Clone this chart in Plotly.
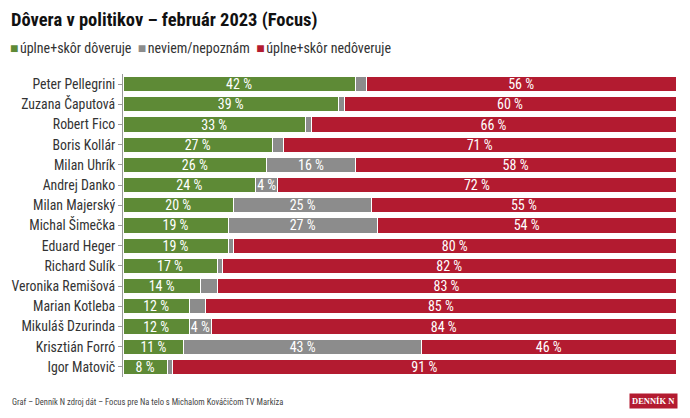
import plotly.graph_objects as go

names = ["Peter Pellegrini", "Zuzana Čaputová", "Robert Fico", "Boris Kollár", "Milan Uhrík",
         "Andrej Danko", "Milan Majerský", "Michal Šimečka", "Eduard Heger", "Richard Sulík",
         "Veronika Remišová", "Marian Kotleba", "Mikuláš Dzurinda", "Krisztián Forró", "Igor Matovič"]
trust = [42, 39, 33, 27, 26, 24, 20, 19, 19, 17, 14, 12, 12, 11, 8]
unknown = [2, 1, 1, 2, 16, 4, 25, 27, 1, 1, 3, 3, 4, 43, 1]
distrust = [56, 60, 66, 71, 58, 72, 55, 54, 80, 82, 83, 85, 84, 46, 91]

series_names = ["úplne+skôr dôveruje", "neviem/nepoznám", "úplne+skôr nedôveruje"]
colors = ["#5e8a36", "#8c8c8c", "#b31b30"]

FONT = "Roboto Condensed, Liberation Sans Narrow, Roboto, sans-serif"

# page body has an 8px default margin; compensate so the picture lines up
OFF = 8
W, H = 690 - OFF, 418 - OFF
ML, MR, MT, MB = 123 - OFF, 14, 74 - OFF, 41
PW, PH = W - ML - MR, H - MT - MB

def px_x(p):  # p: screen pixel x
    return (p - OFF - ML) / PW

def px_y(p):  # p: screen pixel y
    return (H - MB - (p - OFF)) / PH

def labels(vals, minv=0):
    return [f"{v} %" if v >= minv else "" for v in vals]

fig = go.Figure()
for vals, nm, col, mn in [(trust, series_names[0], colors[0], 0),
                          (unknown, series_names[1], colors[1], 4),
                          (distrust, series_names[2], colors[2], 0)]:
    fig.add_trace(go.Bar(
        y=names, x=vals, name=nm, orientation="h",
        marker=dict(color=col, line=dict(color="white", width=1)),
        text=labels(vals, mn), textposition="inside", insidetextanchor="middle",
        constraintext="none",
        textfont=dict(color="white", size=14, family=FONT),
        textangle=0, hoverinfo="skip", showlegend=False,
    ))

fig.update_layout(
    width=W, height=H,
    barmode="stack", bargap=0.25,
    plot_bgcolor="white", paper_bgcolor="white",
    margin=dict(l=ML, r=MR, t=MT, b=MB, autoexpand=False),
    font=dict(family=FONT, color="#333333", size=12),
    showlegend=False,
)
fig.update_xaxes(range=[0, 100], visible=False, fixedrange=True)
fig.update_yaxes(autorange="reversed", showline=True, linecolor="#999999", linewidth=1,
                 ticks="outside", ticklen=4, tickcolor="#999999", automargin=False,
                 tickfont=dict(size=13.8, color="#333333", family=FONT), showgrid=False)

# title
fig.add_annotation(text="<b>Dôvera v politikov – február 2023 (Focus)</b>", xref="paper", yref="paper",
                   x=px_x(9), y=px_y(20), xanchor="left", yanchor="middle", showarrow=False,
                   font=dict(size=18.5, color="#111111", family=FONT))

# legend drawn as text
legend_text = "&nbsp;&nbsp;".join(
    f"<span style='color:{c}'>■</span>&#8202;{n}" for n, c in zip(series_names, colors))
fig.add_annotation(text=legend_text, xref="paper", yref="paper",
                   x=px_x(8), y=px_y(48), xanchor="left", yanchor="middle", showarrow=False,
                   font=dict(size=14, color="#333333", family=FONT))

fig.add_annotation(text="Graf – Denník N zdroj dát – Focus pre Na telo s Michalom Kováčičom TV Markíza",
                   xref="paper", yref="paper", x=px_x(10), y=px_y(402), xanchor="left", yanchor="middle",
                   showarrow=False, font=dict(size=8.5, color="#444444", family=FONT))
fig.add_annotation(text="<b>DENNÍK N</b>", xref="paper", yref="paper",
                   x=px_x(678), y=px_y(401), xanchor="right", yanchor="middle", showarrow=False,
                   bgcolor="#b31b30", borderpad=2,
                   font=dict(size=8.5, color="white", family="Liberation Serif, DejaVu Serif, serif"))

fig.write_html("out.html")
